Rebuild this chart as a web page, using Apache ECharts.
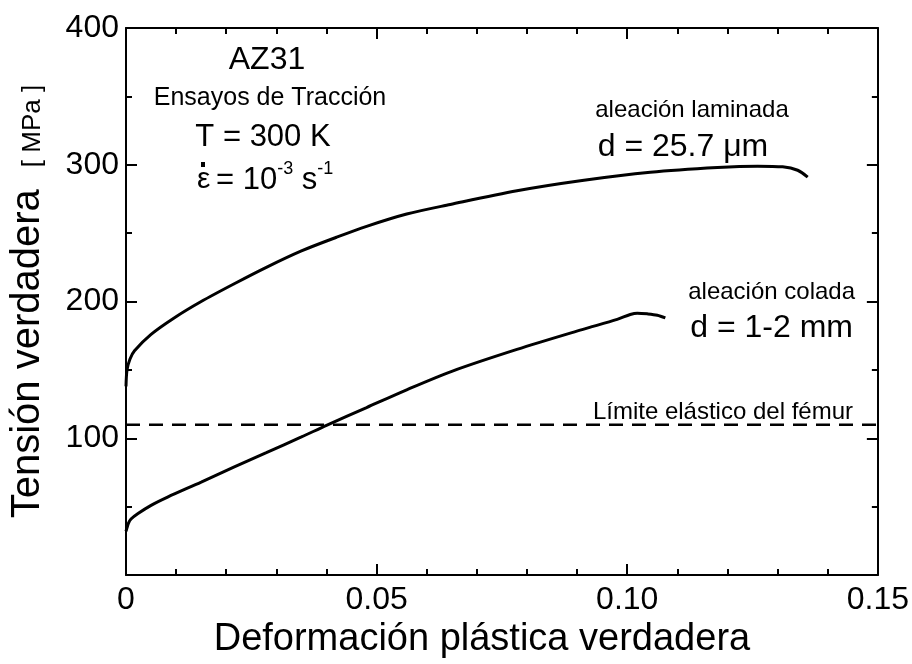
<!DOCTYPE html>
<html>
<head>
<meta charset="utf-8">
<script src="https://cdn.jsdelivr.net/npm/echarts@6.0.0/dist/echarts.min.js"></script>
<style>
  html, body { margin: 0; padding: 0; background: #fff; }
  #chart { width: 912px; height: 664px; }
</style>
</head>
<body>
<div id="chart"></div>
<script>
// aleación laminada (d = 25.7 um)
var lamStrain = [0, 0.0002, 0.0008, 0.0017, 0.005, 0.0096, 0.015, 0.0216, 0.028, 0.035, 0.042, 0.048, 0.056, 0.0647, 0.078, 0.091, 0.1046, 0.118, 0.126, 0.131, 0.134, 0.136];
var lamStress = [138, 150, 158, 164, 176, 188, 200, 213, 225, 237, 247, 255, 264, 271, 281, 288.5, 294.5, 298, 299, 298.5, 296, 291];

// aleación colada (d = 1-2 mm)
var colStrain = [0, 0.0005, 0.001, 0.0024, 0.005, 0.0083, 0.015, 0.0215, 0.028, 0.035, 0.04, 0.048, 0.056, 0.065, 0.078, 0.091, 0.098, 0.1006, 0.102, 0.104, 0.106, 0.1076];
var colStress = [32, 38, 41, 45, 51, 57, 68, 79, 89.5, 101, 109.5, 122.5, 135.5, 149, 165, 179.5, 187, 190.5, 191.5, 191, 190, 188];

// límite elástico del fémur
var femurStrain = [0, 0.15];
var femurStress = [110, 110];

var xTicks = [0, 0.05, 0.10, 0.15];
var yTicks = [100, 200, 300, 400];

var FONT = "'Liberation Sans', Arial, Helvetica, sans-serif";

function zip(xs, ys) {
	var res = [];
	for (var i = 0; i < xs.length; i++)
		res.push([xs[i], ys[i]]);
	return res;
}

function makeAxis(kind, pos, showLabels) {
	var isX = kind == 'x';
	return {
		type: 'value',
		position: pos,
		min: isX ? xTicks[0] : 0,
		max: isX ? xTicks[xTicks.length - 1] : yTicks[yTicks.length - 1],
		interval: isX ? 0.05 : 100,
		axisLine: { show: true, onZero: false, lineStyle: { color: '#000', width: 2 } },
		axisTick: { show: true, inside: true, length: 11, lineStyle: { color: '#000', width: 2 } },
		minorTick: { show: true, splitNumber: isX ? 5 : 2, length: 6, lineStyle: { color: '#000', width: 2 } },
		splitLine: { show: false },
		axisLabel: {
			show: showLabels,
			color: '#000',
			fontSize: 32,
			fontFamily: FONT,
			margin: isX ? 9 : 7,
			formatter: function (v) {
				if (isX) return v === 0 ? '0' : v.toFixed(2);
				return v === 0 ? '' : String(v);
			}
		}
	};
}

var xBottom = makeAxis('x', 'bottom', true);
xBottom.name = 'Deformación plástica verdadera';
xBottom.nameLocation = 'middle';
xBottom.nameGap = 40;
xBottom.nameTextStyle = { color: '#000', fontSize: 38, fontFamily: FONT, padding: [0, 40, 0, 0] };

var yLeft = makeAxis('y', 'left', true);
yLeft.name = '{a|Tensión verdadera}{b|[ MPa ]}';
yLeft.nameLocation = 'middle';
yLeft.nameRotate = 90;
yLeft.nameGap = 78;
yLeft.nameTextStyle = {
	color: '#000',
	fontFamily: FONT,
	rich: {
		a: { fontSize: 40, fontFamily: FONT, color: '#000', verticalAlign: 'bottom' },
		b: { fontSize: 26, fontFamily: FONT, color: '#000', verticalAlign: 'bottom', padding: [0, 0, 2, 22] }
	}
};

function label(text, x, y, size, align) {
	return {
		type: 'text',
		x: x,
		y: y,
		style: {
			text: text,
			fontSize: size,
			fontFamily: FONT,
			fill: '#000',
			align: align || 'center',
			verticalAlign: 'middle'
		}
	};
}

// strain-rate label: epsilon with a square dot, then "= 10^-3 s^-1"
var epsLabel = [
	label('ε', 197, 180, 30, 'left'),
	{ type: 'rect', shape: { x: 201, y: 162, width: 4, height: 5 }, style: { fill: '#000' } },
	{
		type: 'text',
		x: 216,
		y: 178,
		style: {
			text: '{m|= 10}{s|-3}{m| s}{s|-1}',
			fill: '#000',
			align: 'left',
			verticalAlign: 'middle',
			rich: {
				m: { fontSize: 31, fontFamily: FONT, fill: '#000', lineHeight: 36, verticalAlign: 'bottom' },
				s: { fontSize: 18, fontFamily: FONT, fill: '#000', lineHeight: 36, verticalAlign: 'top' }
			}
		}
	}
];

var chart = echarts.init(document.getElementById('chart'));
chart.setOption({
	animation: false,
	backgroundColor: '#fff',
	grid: { left: 125, right: 34, top: 28, bottom: 84, containLabel: false },
	xAxis: [xBottom, makeAxis('x', 'top', false)],
	yAxis: [yLeft, makeAxis('y', 'right', false)],
	series: [
		{
			name: 'aleación laminada', type: 'line', data: zip(lamStrain, lamStress),
			symbol: 'none', smooth: 0.3,
			lineStyle: { color: '#000', width: 3 }
		},
		{
			name: 'aleación colada', type: 'line', data: zip(colStrain, colStress),
			symbol: 'none', smooth: 0.3,
			lineStyle: { color: '#000', width: 3 }
		},
		{
			name: 'Límite elástico del fémur', type: 'line', data: zip(femurStrain, femurStress),
			symbol: 'none',
			lineStyle: { color: '#000', width: 2.5, type: [14, 9] }
		}
	],
	graphic: [
		label('AZ31', 267, 60, 32),
		label('Ensayos de Tracción', 270, 98, 25),
		label('T = 300 K', 263, 137, 31)
	].concat(epsLabel, [
		label('aleación laminada', 692, 110, 24),
		label('d = 25.7 μm', 683, 147, 32),
		label('aleación colada', 855, 292, 24, 'right'),
		label('d = 1-2 mm', 853, 328, 32, 'right'),
		label('Límite elástico del fémur', 853, 412, 24, 'right')
	])
});
</script>
</body>
</html>
